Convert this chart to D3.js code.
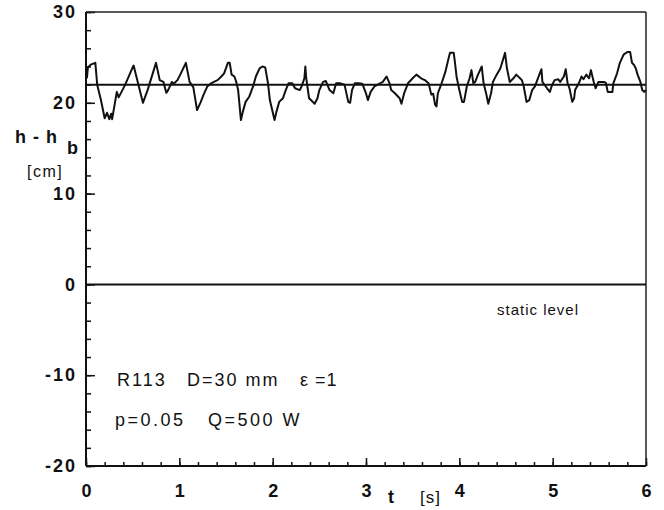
<!DOCTYPE html>
<html><head><meta charset="utf-8">
<script src="https://cdn.jsdelivr.net/npm/d3@7"></script>
<style>
body{margin:0;background:#fff;}
svg{display:block;}
text{font-family:"Liberation Sans",Arial,sans-serif;fill:#111;}
</style></head>
<body><svg id="c" width="664" height="510"></svg>
<script>
// time [s]
const tData = [0.01,0.02,0.05,0.10,0.12,0.16,0.20,0.225,0.25,0.27,0.28,0.33,0.35,0.39,0.42,0.50,0.51,0.61,0.66,0.75,0.79,0.83,0.86,0.88,0.92,0.94,0.98,1.01,1.07,1.11,1.15,1.19,
1.23,1.26,1.30,1.34,1.37,1.41,1.45,1.48,1.52,1.54,1.56,1.59,1.61,1.63,1.66,1.68,1.71,1.75,1.79,1.82,1.86,1.89,1.92,1.95,1.97,2.02,2.04,2.07,2.11,2.14,2.17,2.21,2.24,2.29,2.31,2.34,2.35,2.36,2.39,2.41,2.45,2.48,2.50,2.54,2.57,2.61,2.65,2.68,2.72,2.77,2.81,2.83,2.85,2.88,2.92,2.96,
3.00,3.02,3.05,3.09,3.15,3.18,3.22,3.25,3.27,3.31,3.36,3.38,3.41,3.45,3.50,3.54,3.59,3.63,3.67,3.70,3.72,3.74,3.755,3.77,3.81,3.85,3.88,3.90,3.94,3.95,3.97,
4.00,4.03,4.05,4.08,4.11,4.13,4.15,4.17,4.20,4.24,4.26,4.29,4.31,4.34,4.36,4.40,4.44,4.49,4.51,4.54,4.58,4.61,4.65,4.67,4.69,4.72,4.75,4.78,4.81,4.85,4.88,4.89,4.94,4.97,4.99,
5.02,5.06,5.08,5.12,5.14,5.16,5.18,5.21,5.23,5.24,5.28,5.31,5.33,5.36,5.39,5.41,5.44,5.46,5.49,5.55,5.57,5.59,5.64,5.65,5.69,5.72,5.76,5.80,5.83,5.85,5.87,5.89,5.91,5.94,5.96,5.98,6.00];
// h - h_b [cm]
const hData = [22.7,23.9,24.2,24.4,22.0,20.3,18.3,18.9,18.2,18.8,18.2,21.2,20.6,21.4,22.0,23.9,24.1,20.0,21.4,24.4,22.5,22.3,21.1,21.4,22.3,22.1,22.5,23.1,24.4,22.3,21.7,19.2,
20.1,20.9,21.8,22.15,22.3,22.5,22.9,23.25,24.4,24.4,23.1,22.9,22.3,21.4,18.1,19.0,20.1,20.7,21.8,22.9,23.8,24.0,23.9,22.15,20.3,18.1,19.0,20.1,20.5,21.4,22.15,22.15,21.6,21.4,21.8,22.7,24.0,22.7,20.5,20.3,19.9,20.5,21.4,22.3,22.4,21.4,21.05,22.15,22.15,22.0,20.1,20.0,21.4,22.15,22.15,22.1,
21.05,20.3,21.2,21.8,22.15,22.3,22.9,22.2,21.4,21.05,20.5,19.9,21.1,22.15,22.7,23.1,22.7,22.5,22.15,20.9,21.0,19.8,19.6,21.05,22.15,23.4,24.7,25.5,25.5,24.7,22.9,
21.4,20.1,20.1,21.8,22.7,23.6,22.15,22.3,23.1,24.0,22.15,20.9,19.9,21.05,22.3,23.1,23.8,25.5,23.8,22.3,22.7,23.1,22.7,22.5,21.8,20.1,20.3,21.4,21.8,22.9,23.7,22.3,21.6,21.2,21.85,
22.5,22.6,22.3,22.9,23.7,22.15,21.6,20.1,20.5,21.4,22.15,22.9,22.6,23.1,22.7,23.6,22.3,21.6,22.3,22.3,22.2,21.2,21.2,22.15,23.25,24.4,25.3,25.6,25.6,24.4,24.2,23.8,23.1,22.3,21.4,21.2,21.4];
const meanLevel = 22;
const staticLevel = 0;
const xMajor = [0,1,2,3,4,5,6];
const yMajor = [-20,-10,0,10,20,30];
const xMinor = d3.range(0, 6.001, 0.2);
const yMinor = d3.range(-20, 30.001, 2);

const svg = d3.select("#c");
const x = d3.scaleLinear().domain([0,6]).range([86,646]);
const y = d3.scaleLinear().domain([-20,30]).range([466,12]);
const fmt = d => String(d);

// minor ticks
svg.append("g").attr("transform","translate(0,466)")
  .call(d3.axisBottom(x).tickValues(xMinor).tickSize(-4).tickFormat(""))
  .call(g=>g.select(".domain").remove())
  .selectAll("line").attr("stroke","#111").attr("stroke-width",1.5);
svg.append("g").attr("transform","translate(86,0)")
  .call(d3.axisLeft(y).tickValues(yMinor).tickSize(-5).tickFormat(""))
  .call(g=>g.select(".domain").remove())
  .selectAll("line").attr("stroke","#111").attr("stroke-width",1.5);

// major axes
const gx = svg.append("g").attr("transform","translate(0,466)")
  .call(d3.axisBottom(x).tickValues(xMajor).tickSize(-8).tickPadding(18).tickFormat(fmt));
gx.select(".domain").remove();
gx.selectAll("line").attr("stroke","#111").attr("stroke-width",1.5);
gx.selectAll("text").attr("font-size",18).attr("font-weight","bold")
  .attr("font-family","'Liberation Sans',Arial,sans-serif").attr("fill","#111");

const gy = svg.append("g").attr("transform","translate(86,0)")
  .call(d3.axisLeft(y).tickValues(yMajor).tickSize(-9).tickPadding(9).tickFormat(fmt));
gy.select(".domain").remove();
gy.selectAll("line").attr("stroke","#111").attr("stroke-width",1.5);
gy.selectAll("text").attr("font-size",18).attr("font-weight","bold").attr("letter-spacing",2)
  .attr("font-family","'Liberation Sans',Arial,sans-serif").attr("fill","#111");

// frame
svg.append("line").attr("x1",x(0)).attr("x2",x(6)).attr("y1",y(-20)).attr("y2",y(-20)).attr("stroke","#111").attr("stroke-width",2);
svg.append("line").attr("x1",x(0)).attr("x2",x(0)).attr("y1",y(-20)).attr("y2",y(30)).attr("stroke","#111").attr("stroke-width",2);
svg.append("line").attr("x1",x(0)).attr("x2",x(6)).attr("y1",y(30)).attr("y2",y(30)).attr("stroke","#222").attr("stroke-width",1.5);
svg.append("line").attr("x1",x(6)).attr("x2",x(6)).attr("y1",y(-20)).attr("y2",y(30)).attr("stroke","#222").attr("stroke-width",1.5);

// reference lines
svg.append("line").attr("x1",x(0)).attr("x2",x(6)).attr("y1",y(staticLevel)).attr("y2",y(staticLevel)).attr("stroke","#111").attr("stroke-width",2);
svg.append("line").attr("x1",x(0)).attr("x2",x(6)).attr("y1",y(meanLevel)).attr("y2",y(meanLevel)).attr("stroke","#111").attr("stroke-width",2);

// series
const pts = tData.map((t,i)=>[t,hData[i]]);
svg.append("path").datum(pts)
  .attr("d", d3.line().x(d=>x(d[0])).y(d=>y(d[1])))
  .attr("fill","none").attr("stroke","#111").attr("stroke-width",2).attr("stroke-linejoin","round");

// labels
const lab = (tx,px,py,opt={})=>{
  return svg.append("text").attr("x",px).attr("y",py).text(tx)
    .attr("font-size",opt.size||16).attr("font-weight",opt.bold?"bold":"normal")
    .attr("letter-spacing",opt.ls||0).attr("text-anchor",opt.anchor||"start");
};
lab("h - h",15,143,{size:18,bold:true,ls:1});
lab("b",67,154,{size:18,bold:true});
lab("[cm]",27,177,{size:16,ls:1.5});
lab("static level",497,315,{size:15,ls:1});
lab("R113",117,386,{size:18,ls:2});
lab("D=30 mm",187,386,{size:18,ls:2});
lab("\u03b5 =1",300,386,{size:18,ls:1});
lab("p=0.05",115,426,{size:18,ls:2.5});
lab("Q=500 W",208,426,{size:18,ls:2.5});
lab("t",388,503,{size:18,bold:true});
lab("[s]",420,503,{size:17,ls:1});
</script></body></html>
